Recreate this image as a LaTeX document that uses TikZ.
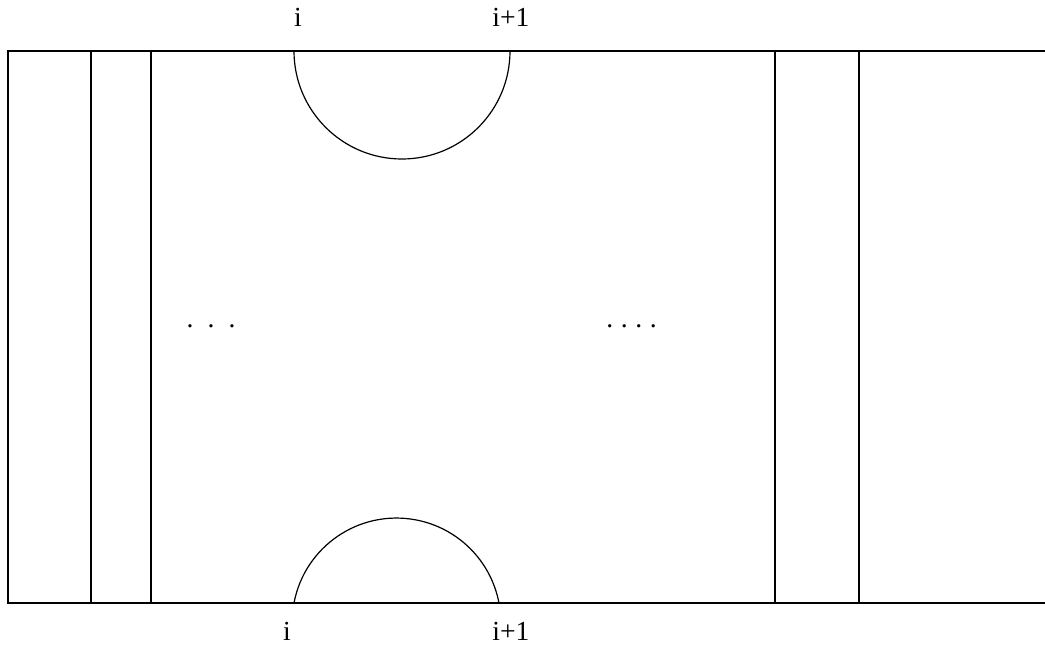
\documentclass[tikz,border=0pt]{standalone}
\usepackage{fontspec}
\setmainfont{Liberation Serif}
\tikzset{
  trait/.style={line width=0.6pt, color=black},
  indice/.style={font=\fontsize{13.8}{16}\selectfont, anchor=base, inner sep=0pt},
  points/.style={font=\fontsize{13.8}{16}\selectfont, anchor=base, inner sep=0pt}
}
\begin{document}
\begin{tikzpicture}[x=0.5pt, y=-0.5pt]
  \useasboundingbox (0,0) rectangle (1045,646);
  % bande et separations
  \draw[trait] (1045,51) -- (8,51) -- (8,603) -- (1045,603);
  \foreach \x in {91,151,775,859}
    \draw[trait] (\x,51) -- (\x,603);
  % demi-cercles
  \coordinate (arc haut) at (294,51);
  \coordinate (arc bas) at (294,603);
  \draw[trait] (arc haut) arc[start angle=180, end angle=0, radius=108];
  \draw[trait] (arc bas) arc[start angle=190.7, end angle=349.3, radius=104.3];
  % indices
  \node[indice] (i haut) at (298,27) {i};
  \node[indice] (i1 haut) at (511,27) {i+1};
  \node[indice] (i bas) at (287,640) {i};
  \node[indice] (i1 bas) at (511,640) {i+1};
  % points de suspension
  \node[points] (pts gauche) at (211,327.5) {.\hspace{7.05pt}.\hspace{7.05pt}.};
  \node[points] (pts droite) at (631.5,327.5) {.\hspace{3.8pt}.\hspace{3.8pt}.\hspace{3.8pt}.};
\end{tikzpicture}
\end{document}
